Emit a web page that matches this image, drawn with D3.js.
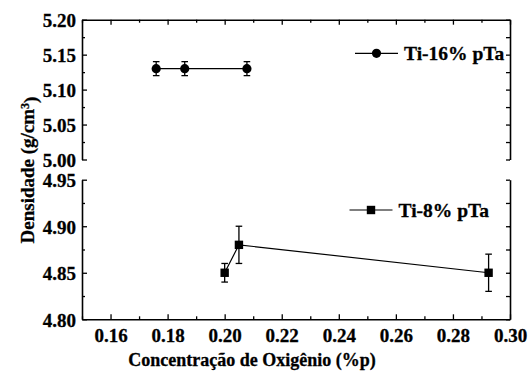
<!DOCTYPE html>
<html>
<head>
<meta charset="utf-8">
<script src="https://cdn.jsdelivr.net/npm/d3@7"></script>
<style>
  body { margin: 0; background: #fff; }
  svg { display: block; }
  text { font-family: "Liberation Serif", "Times New Roman", serif; font-weight: bold; fill: #000; stroke: #000; stroke-width: 0.3px; }
  .tick text { font-family: "Liberation Serif", "Times New Roman", serif !important; font-weight: bold !important; font-size: 19px !important; }
</style>
</head>
<body>
<div id="chart"></div>
<script>
// oxygen concentration (%p) vs density (g/cm3)
const ti16X = [0.176, 0.186, 0.2078];
const ti16Y = [5.13, 5.13, 5.13];
const ti16Err = [0.01, 0.01, 0.01];

const ti8X = [0.200, 0.205, 0.2925];
const ti8Y = [4.85, 4.88, 4.85];
const ti8Err = [0.01, 0.02, 0.02];

const xTicks = [0.16, 0.18, 0.20, 0.22, 0.24, 0.26, 0.28, 0.30];
const xMinor = [0.15, 0.17, 0.19, 0.21, 0.23, 0.25, 0.27, 0.29];
const yTopTicks = [5.00, 5.05, 5.10, 5.15, 5.20];
const yTopMinor = [5.025, 5.075, 5.125, 5.175];
const yBotTicks = [4.80, 4.85, 4.90, 4.95];
const yBotMinor = [4.825, 4.875, 4.925];

const seriesNames = ['Ti-16% pTa', 'Ti-8% pTa'];

const W = 528, H = 374;
const left = 82, right = 510;
const topT = 19.7, topB = 159.5;
const botT = 179.7, botB = 319.3;

const svg = d3.select('#chart').append('svg')
    .attr('width', W)
    .attr('height', H);

const x = d3.scaleLinear().domain([0.15, 0.30]).range([left, right]);
const yTop = d3.scaleLinear().domain([5.00, 5.20]).range([topB, topT]);
const yBot = d3.scaleLinear().domain([4.80, 4.95]).range([botB, botT]);

const fmt = d3.format('.2f');
const axisW = 1.6;

function styleAxis(g, showDomain) {
    g.attr('font-family', null).attr('font-size', null);
    g.selectAll('.tick line').attr('stroke', '#000').attr('stroke-width', 1.3);
    g.select('.domain').attr('stroke', showDomain ? '#000' : 'none').attr('stroke-width', axisW);
    g.selectAll('.tick text').attr('fill', '#000');
}

// left axes
function leftAxis(scale, majors, minors) {
    svg.append('g')
        .attr('transform', `translate(${left},0)`)
        .call(d3.axisLeft(scale).tickValues(minors).tickSizeInner(-3).tickSizeOuter(0).tickFormat(''))
        .call(g => styleAxis(g, false));
    svg.append('g')
        .attr('transform', `translate(${left},0)`)
        .call(d3.axisLeft(scale).tickValues(majors).tickSizeInner(-5).tickSizeOuter(0).tickPadding(6).tickFormat(fmt))
        .call(g => styleAxis(g, true))
        .selectAll('.tick text').attr('dy', '0.36em');
}
leftAxis(yTop, yTopTicks, yTopMinor);
leftAxis(yBot, yBotTicks, yBotMinor);

// right axes (no labels)
function rightAxis(scale, majors, minors) {
    svg.append('g')
        .attr('transform', `translate(${right},0)`)
        .call(d3.axisRight(scale).tickValues(majors.concat(minors)).tickSizeInner(-4).tickSizeOuter(0).tickFormat(''))
        .call(g => styleAxis(g, true));
}
rightAxis(yTop, yTopTicks, yTopMinor);
rightAxis(yBot, yBotTicks, yBotMinor);

// top x axis
svg.append('g')
    .attr('transform', `translate(0,${topT})`)
    .call(d3.axisTop(x).tickValues(xMinor).tickSizeInner(-3).tickSizeOuter(0).tickFormat(''))
    .call(g => styleAxis(g, true));
svg.append('g')
    .attr('transform', `translate(0,${topT})`)
    .call(d3.axisTop(x).tickValues(xTicks).tickSizeInner(-5).tickSizeOuter(0).tickFormat(''))
    .call(g => styleAxis(g, false));

// bottom x axis
svg.append('g')
    .attr('transform', `translate(0,${botB})`)
    .call(d3.axisBottom(x).tickValues(xMinor).tickSizeInner(-3).tickSizeOuter(0).tickFormat(''))
    .call(g => styleAxis(g, true));
svg.append('g')
    .attr('transform', `translate(0,${botB})`)
    .call(d3.axisBottom(x).tickValues(xTicks).tickSizeInner(-5).tickSizeOuter(0).tickPadding(9).tickFormat(fmt))
    .call(g => styleAxis(g, false));

// series
function drawSeries(xs, ys, errs, scale, marker) {
    const data = xs.map((d, i) => ({ x: d, y: ys[i], e: errs[i] }));
    const g = svg.append('g');
    g.append('path')
        .datum(data)
        .attr('fill', 'none')
        .attr('stroke', '#000')
        .attr('stroke-width', 1.2)
        .attr('d', d3.line().x(d => x(d.x)).y(d => scale(d.y)));

    const eb = g.selectAll('.eb').data(data).enter().append('g');
    eb.append('line')
        .attr('x1', d => x(d.x)).attr('x2', d => x(d.x))
        .attr('y1', d => scale(d.y - d.e)).attr('y2', d => scale(d.y + d.e))
        .attr('stroke', '#000').attr('stroke-width', 1.3);
    [-1, 1].forEach(s => {
        eb.append('line')
            .attr('x1', d => x(d.x) - 3.3).attr('x2', d => x(d.x) + 3.3)
            .attr('y1', d => scale(d.y + s * d.e)).attr('y2', d => scale(d.y + s * d.e))
            .attr('stroke', '#000').attr('stroke-width', 1.3);
    });

    if (marker === 'circle') {
        g.selectAll('.m').data(data).enter().append('circle')
            .attr('cx', d => x(d.x)).attr('cy', d => scale(d.y))
            .attr('r', 4.6).attr('fill', '#000');
    } else {
        g.selectAll('.m').data(data).enter().append('rect')
            .attr('x', d => x(d.x) - 4.2).attr('y', d => scale(d.y) - 4.2)
            .attr('width', 8.4).attr('height', 8.4).attr('fill', '#000');
    }
}
drawSeries(ti16X, ti16Y, ti16Err, yTop, 'circle');
drawSeries(ti8X, ti8Y, ti8Err, yBot, 'square');

// legends
function legend(lx, ly, name, marker) {
    const g = svg.append('g').attr('transform', `translate(${lx},${ly})`);
    g.append('line').attr('x1', 0).attr('x2', 43).attr('y1', 0).attr('y2', 0)
        .attr('stroke', '#000').attr('stroke-width', 1.2);
    if (marker === 'circle') {
        g.append('circle').attr('cx', 21.5).attr('cy', 0).attr('r', 4.6).attr('fill', '#000');
    } else {
        g.append('rect').attr('x', 21.5 - 4.2).attr('y', -4.2).attr('width', 8.4).attr('height', 8.4).attr('fill', '#000');
    }
    g.append('text')
        .attr('x', 49)
        .attr('y', 6.5)
        .style('font-size', '19.5px')
        .text(name);
}
legend(355, 53.3, seriesNames[0], 'circle');
legend(349.5, 210, seriesNames[1], 'square');

// axis titles
svg.append('text')
    .attr('x', 252)
    .attr('y', 366)
    .attr('text-anchor', 'middle')
    .style('font-size', '18px')
    .text('Concentração de Oxigênio (%p)');

const yt = svg.append('text')
    .attr('transform', 'translate(34,170) rotate(-90)')
    .attr('text-anchor', 'middle')
    .style('font-size', '19px');
yt.append('tspan').text('Densidade (g/cm');
yt.append('tspan').attr('dy', '-0.45em').style('font-size', '12px').text('3');
yt.append('tspan').attr('dy', '0.45em').text(')');
</script>
</body>
</html>
